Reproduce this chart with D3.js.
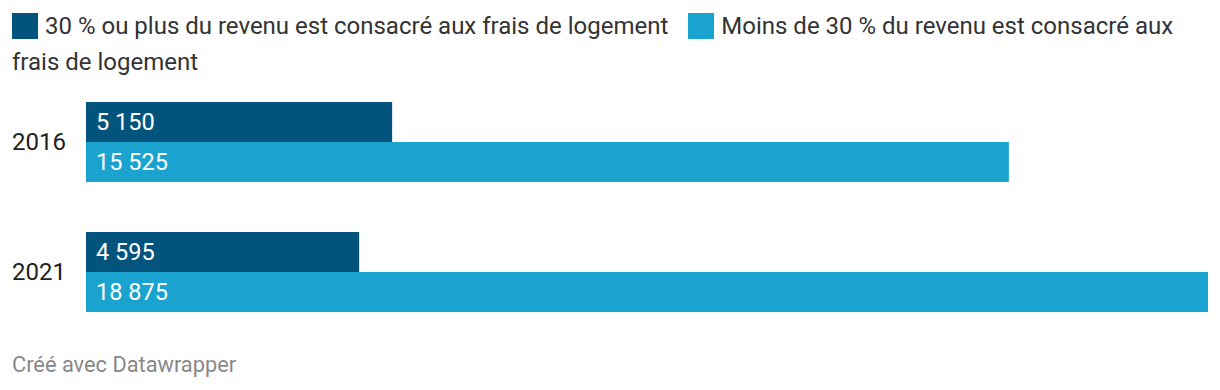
<!DOCTYPE html>
<html>
<head>
<meta charset="utf-8">
<script src="https://cdn.jsdelivr.net/npm/d3@7"></script>
<style>
    body { margin: 0; background: #fff; font-family: Roboto, sans-serif; }
    .chart { position: relative; width: 1220px; height: 390px; }
    .legend { position: absolute; left: 12px; top: 8px; width: 1196px; font-size: 24px; line-height: 36px; color: #333; }
    .legend-item { display: inline; margin-right: 20px; }
    .swatch { display: inline-block; width: 26px; height: 26px; vertical-align: -5px; margin-right: 7px; }
    svg { position: absolute; left: 0; top: 0; }
</style>
</head>
<body>
<div class="chart">
    <div class="legend"></div>
</div>
<script>
// Données
let years = ["2016", "2021"];
let seriesNames = [
    "30 % ou plus du revenu est consacré aux frais de logement",
    "Moins de 30 % du revenu est consacré aux frais de logement"
];
let over30 = [5150, 4595];
let under30 = [15525, 18875];
let colors = ["#03547c", "#1aa3cf"];

let width = 1220;
let height = 390;

let fmt = (v) => d3.format(",")(v).replace(/,/g, " ");

// Légende
let legend = d3.select(".legend")
    .selectAll("span.legend-item")
    .data(seriesNames)
    .enter()
    .append("span")
    .attr("class", "legend-item");
legend.append("span")
    .attr("class", "swatch")
    .style("background", (d, i) => colors[i]);
legend.append("span")
    .text((d) => d);

let svg = d3.select(".chart")
    .append("svg")
    .attr("width", width)
    .attr("height", height);

// Échelles
let x = d3.scaleLinear()
    .domain([0, d3.max(under30)])
    .range([86, 1208]);

let y = d3.scaleBand()
    .domain(years)
    .range([102, 312])
    .paddingInner(50 / 130)
    .paddingOuter(0);

let groups = svg.selectAll("g.year")
    .data(years)
    .enter()
    .append("g")
    .attr("class", "year")
    .attr("transform", (d) => "translate(0," + y(d) + ")");

let barH = y.bandwidth() / 2;

groups.append("text")
    .attr("x", 12)
    .attr("y", barH)
    .attr("dy", "0.35em")
    .style("font-size", "24px")
    .style("fill", "#222")
    .text((d) => d);

let series = [over30, under30];
series.forEach((vals, s) => {
    groups.append("rect")
        .attr("x", x(0))
        .attr("y", s * barH)
        .attr("width", (d, i) => x(vals[i]) - x(0))
        .attr("height", barH)
        .attr("fill", colors[s]);

    groups.append("text")
        .attr("x", x(0) + 10)
        .attr("y", s * barH + barH / 2)
        .attr("dy", "0.35em")
        .style("font-size", "23.5px")
        .style("fill", "#fff")
        .text((d, i) => fmt(vals[i]));
});

// Source
svg.append("text")
    .attr("x", 12)
    .attr("y", 372)
    .style("font-size", "21.8px")
    .style("fill", "#888")
    .text("Créé avec Datawrapper");
</script>
</body>
</html>
